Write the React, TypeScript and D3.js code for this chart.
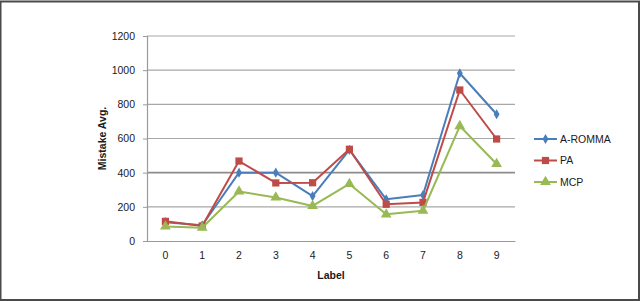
import * as React from 'react';
import {useEffect, useRef} from 'react';
import * as d3 from 'd3';

const labels = ['0', '1', '2', '3', '4', '5', '6', '7', '8', '9'];
const aromma = [110, 92, 400, 400, 263, 533, 244, 269, 982, 742];
const pa = [115, 88, 468, 340, 341, 537, 215, 226, 884, 597];
const mcp = [85, 78, 290, 255, 205, 334, 156, 177, 673, 451];
const yTicks = [0, 200, 400, 600, 800, 1000, 1200];

const series = [
  {name: 'A-ROMMA', values: aromma, color: '#4a7ebb', symbol: d3.symbolDiamond, size: 30},
  {name: 'PA', values: pa, color: '#be4b48', symbol: d3.symbolSquare, size: 52},
  {name: 'MCP', values: mcp, color: '#98b954', symbol: d3.symbolTriangle, size: 50},
];

const W = 640;
const H = 301;
const font = '"Liberation Sans", Arial, sans-serif';

const App = () => {
  const ref = useRef<SVGSVGElement>(null);

  useEffect(() => {
    const svg = d3.select(ref.current);
    svg.selectAll('*').remove();

    const x = d3.scaleBand().domain(labels).range([147, 515]);
    const y = d3.scaleLinear().domain([0, 1200]).range([241, 36]);

    svg.append('rect').attr('width', W).attr('height', H).attr('fill', '#fff');

    // frame around the whole picture
    svg.append('rect')
      .attr('x', 0.5).attr('y', 1.5)
      .attr('width', W - 1.5).attr('height', H - 2.5)
      .attr('fill', 'none').attr('stroke', '#4a4a4a').attr('stroke-width', 2);

    // gridlines
    svg.append('g').selectAll('line')
      .data(yTicks.slice(1))
      .join('line')
      .attr('x1', 147).attr('x2', 515)
      .attr('y1', d => y(d)).attr('y2', d => y(d))
      .attr('stroke', d => d === 400 ? '#8c8c8c' : '#a8a8a8')
      .attr('stroke-width', d => d === 400 ? 1.6 : 1.2);

    // axes
    const yAxis = svg.append('g')
      .attr('transform', 'translate(147,0)')
      .call(d3.axisLeft(y).tickValues(yTicks).tickFormat(d3.format('d')).tickSize(4).tickPadding(8));
    const xAxis = svg.append('g')
      .attr('transform', 'translate(0,241)')
      .call(d3.axisBottom(x).tickSize(0).tickPadding(11));
    [yAxis, xAxis].forEach(a => {
      a.select('.domain').attr('stroke', '#9a9a9a').attr('stroke-width', 1.2);
      a.selectAll('.tick line').attr('stroke', '#9a9a9a');
      a.selectAll('text')
        .attr('fill', '#1a1a1a')
        .style('font-family', font)
        .style('font-size', '10.5px');
    });

    svg.append('text')
      .attr('transform', `translate(106,${(36 + 241) / 2}) rotate(-90)`)
      .attr('text-anchor', 'middle')
      .style('font-family', font).style('font-size', '10.5px').style('font-weight', 'bold')
      .attr('fill', '#1a1a1a')
      .text('Mistake Avg.');

    svg.append('text')
      .attr('x', (147 + 515) / 2).attr('y', 279)
      .attr('text-anchor', 'middle')
      .style('font-family', font).style('font-size', '10.5px').style('font-weight', 'bold')
      .attr('fill', '#1a1a1a')
      .text('Label');

    const cx = (i: number) => (x(labels[i]) as number) + x.bandwidth() / 2;

    series.forEach(s => {
      const line = d3.line<number>().x((_, i) => cx(i)).y(d => y(d));
      svg.append('path')
        .datum(s.values)
        .attr('fill', 'none')
        .attr('stroke', s.color)
        .attr('stroke-width', 2)
        .attr('stroke-linejoin', 'round')
        .attr('d', line);
      svg.append('g').selectAll('path')
        .data(s.values)
        .join('path')
        .attr('transform', (d, i) => `translate(${cx(i)},${y(d)})`)
        .attr('d', d3.symbol(s.symbol, s.size)())
        .attr('fill', s.color);
    });

    // legend
    const legend = svg.append('g');
    series.forEach((s, i) => {
      const ly = 139 + i * 21.5;
      legend.append('line')
        .attr('x1', 534).attr('x2', 557).attr('y1', ly).attr('y2', ly)
        .attr('stroke', s.color).attr('stroke-width', 2);
      legend.append('path')
        .attr('transform', `translate(545.5,${ly})`)
        .attr('d', d3.symbol(s.symbol, s.size)())
        .attr('fill', s.color);
      legend.append('text')
        .attr('x', 560).attr('y', ly).attr('dy', '0.35em')
        .style('font-family', font).style('font-size', '10.5px')
        .attr('fill', '#1a1a1a')
        .text(s.name);
    });
  }, []);

  return (
    <svg ref={ref} width={W} height={H}
      style={{position: 'absolute', left: 0, top: 0, display: 'block'}}/>
  );
};

export default App;
